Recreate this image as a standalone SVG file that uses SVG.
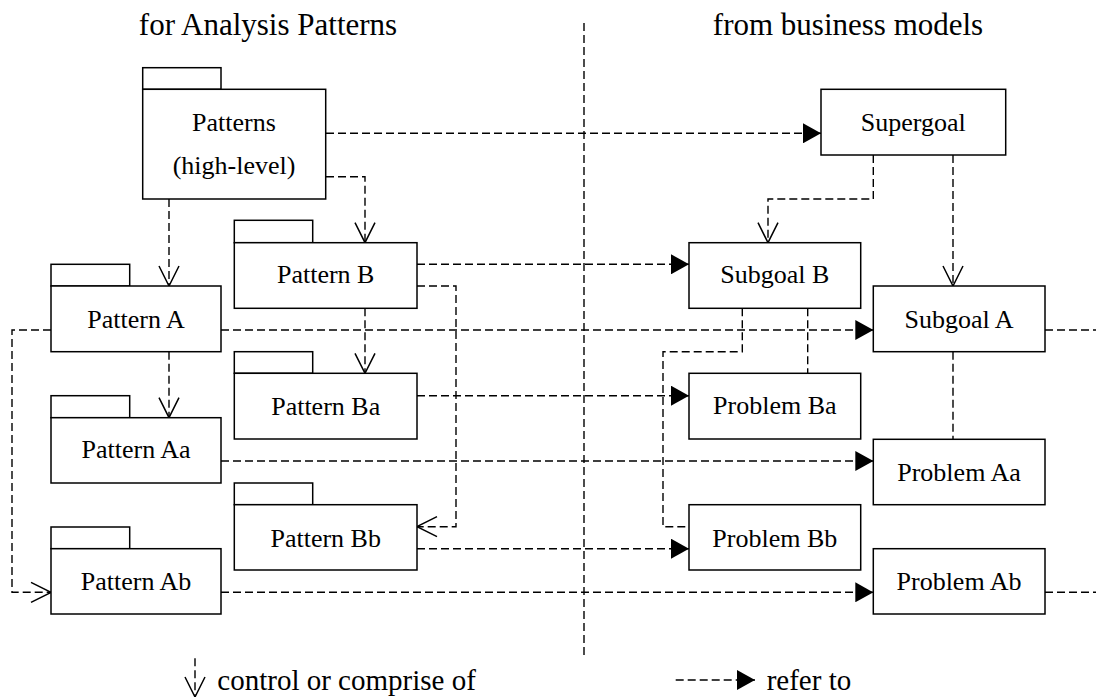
<svg xmlns="http://www.w3.org/2000/svg" width="1096" height="697" viewBox="0 0 1096 697">
<style>
.box{fill:#fff;stroke:#000;stroke-width:1.5}
.lbl{font-family:"Liberation Serif","Times New Roman",serif;font-size:26px;fill:#000;text-anchor:middle}
.ttl{font-family:"Liberation Serif","Times New Roman",serif;font-size:31px;fill:#000}
.leg{font-family:"Liberation Serif","Times New Roman",serif;font-size:29px;fill:#000}
.dash{fill:none;stroke:#000;stroke-width:1.4;stroke-dasharray:8 4}
.ctl{marker-end:url(#open)}
.ref{marker-end:url(#solid)}
</style>
<defs>
<marker id="solid" viewBox="0 0 18 20" refX="18" refY="10" markerWidth="18" markerHeight="20" markerUnits="userSpaceOnUse" orient="auto">
<path d="M0,0 L18,10 L0,20 Z" fill="#000" stroke="none"/>
</marker>
<marker id="open" viewBox="-1 -1 22 22" refX="20" refY="10" markerWidth="22" markerHeight="22" markerUnits="userSpaceOnUse" orient="auto">
<path d="M0,0 L20,10 L0,20" fill="none" stroke="#000" stroke-width="1.5" stroke-dasharray="none"/>
</marker>
</defs>

<text class="ttl" x="268" y="35" text-anchor="middle">for Analysis Patterns</text>
<text class="ttl" x="848" y="35" text-anchor="middle">from business models</text>

<g id="connectors">
<path class="dash" d="M584,23 V658"/>
<path class="dash ref" d="M326,133.3 H821"/>
<path class="dash ctl" d="M326,176.7 H365 V242.7"/>
<path class="dash ctl" d="M169,199 V286"/>
<path class="dash ref" d="M417,264.3 H689"/>
<path class="dash ctl" d="M417,286 H456 V526.7 H417"/>
<path class="dash ctl" d="M365,308.3 V373.3"/>
<path class="dash ref" d="M221,330 H873.3"/>
<path class="dash ctl" d="M51,330 H12 V592.3 H51"/>
<path class="dash ctl" d="M169,351.7 V417.7"/>
<path class="dash ref" d="M417,395.7 H689"/>
<path class="dash ref" d="M221,461 H873.3"/>
<path class="dash ref" d="M417,548.7 H689"/>
<path class="dash ref" d="M221,592.3 H873.3"/>
<path class="dash ctl" d="M873.3,155 V199 H768 V242.7"/>
<path class="dash ctl" d="M953,155 V286"/>
<path class="dash" d="M742.3,308.3 V351.7 H663 V526.7 H689"/>
<path class="dash" d="M807.7,308.3 V373.3"/>
<path class="dash" d="M953,351.7 V439.3"/>
<path class="dash" d="M1045,330 H1096"/>
<path class="dash" d="M1045,592.3 H1096"/>
</g>

<g id="patterns">
<rect class="box" x="142.7" y="67.7" width="78.3" height="21.6"/>
<rect class="box" x="142.7" y="89.3" width="183" height="109.7"/>
<text class="lbl" x="234" y="131">Patterns</text>
<text class="lbl" x="234" y="174">(high-level)</text>
</g>
<g id="pattern-b">
<rect class="box" x="234.3" y="220.3" width="78.4" height="22.4"/>
<rect class="box" x="234.3" y="242.7" width="182.7" height="65.6"/>
<text class="lbl" x="325.7" y="283">Pattern B</text>
</g>
<g id="pattern-a">
<rect class="box" x="51" y="264.3" width="78.7" height="21.7"/>
<rect class="box" x="51" y="286" width="170" height="65.7"/>
<text class="lbl" x="136" y="327.5">Pattern A</text>
</g>
<g id="pattern-ba">
<rect class="box" x="234.3" y="351.7" width="78.4" height="21.6"/>
<rect class="box" x="234.3" y="373.3" width="182.7" height="65.7"/>
<text class="lbl" x="325.7" y="414.5">Pattern Ba</text>
</g>
<g id="pattern-aa">
<rect class="box" x="51" y="395.7" width="78.7" height="22"/>
<rect class="box" x="51" y="417.7" width="170" height="65.3"/>
<text class="lbl" x="136" y="458.3">Pattern Aa</text>
</g>
<g id="pattern-bb">
<rect class="box" x="234.3" y="483" width="78.4" height="21.7"/>
<rect class="box" x="234.3" y="504.7" width="182.7" height="65.3"/>
<text class="lbl" x="325.7" y="546.7">Pattern Bb</text>
</g>
<g id="pattern-ab">
<rect class="box" x="51" y="527" width="78.7" height="21.7"/>
<rect class="box" x="51" y="548.7" width="170" height="65.3"/>
<text class="lbl" x="136" y="590">Pattern Ab</text>
</g>

<g id="supergoal">
<rect class="box" x="821" y="89.3" width="184.7" height="65.7"/>
<text class="lbl" x="913.3" y="131">Supergoal</text>
</g>
<g id="subgoal-b">
<rect class="box" x="689" y="242.7" width="171.7" height="65.6"/>
<text class="lbl" x="774.8" y="283">Subgoal B</text>
</g>
<g id="subgoal-a">
<rect class="box" x="873.3" y="286" width="171.7" height="65.7"/>
<text class="lbl" x="959" y="327.5">Subgoal A</text>
</g>
<g id="problem-ba">
<rect class="box" x="689" y="373.3" width="171.7" height="65.7"/>
<text class="lbl" x="774.8" y="414.3">Problem Ba</text>
</g>
<g id="problem-aa">
<rect class="box" x="873.3" y="439.3" width="171.7" height="65.4"/>
<text class="lbl" x="959" y="480.7">Problem Aa</text>
</g>
<g id="problem-bb">
<rect class="box" x="689" y="504.7" width="171.7" height="65.3"/>
<text class="lbl" x="774.8" y="546.7">Problem Bb</text>
</g>
<g id="problem-ab">
<rect class="box" x="873.3" y="548.7" width="171.7" height="65.3"/>
<text class="lbl" x="959" y="590">Problem Ab</text>
</g>

<g id="legend">
<path class="dash ctl" d="M195,658.3 V697"/>
<text class="leg" x="217.3" y="690">control or comprise of</text>
<path class="dash ref" d="M675.7,680 H755"/>
<text class="leg" x="766.7" y="690">refer to</text>
</g>
</svg>
